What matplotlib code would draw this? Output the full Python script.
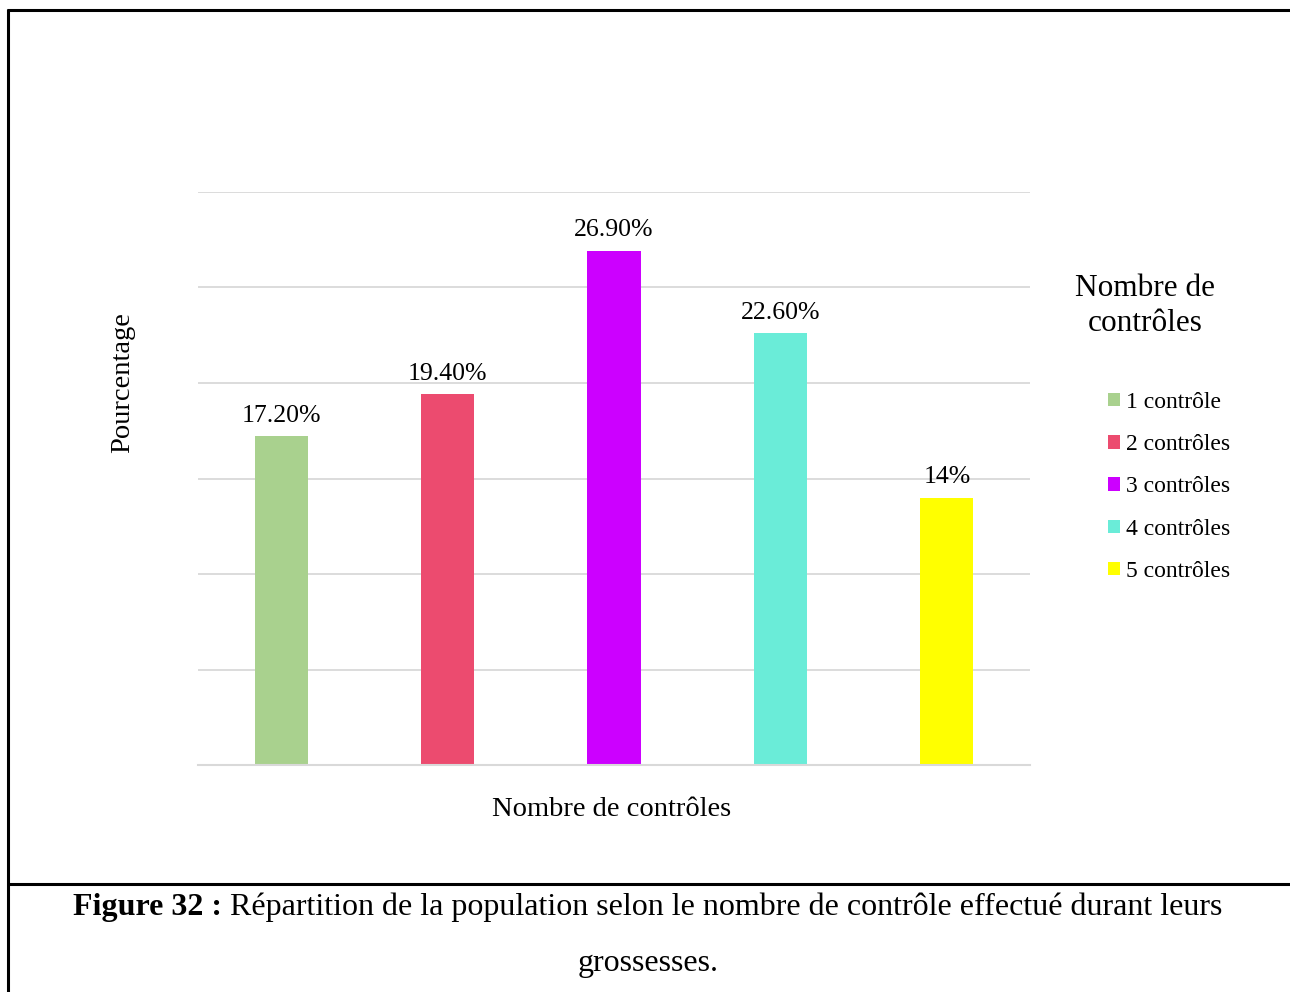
import matplotlib
matplotlib.use("Agg")
import matplotlib.pyplot as plt
from matplotlib.lines import Line2D
from matplotlib.patches import Patch

plt.rcParams['font.family'] = ['Liberation Serif', 'DejaVu Serif']

categories = ["1 contrôle", "2 contrôles", "3 contrôles", "4 contrôles", "5 contrôles"]
values = [17.2, 19.4, 26.9, 22.6, 14.0]
value_labels = ["17.20%", "19.40%", "26.90%", "22.60%", "14%"]
colors = ["#A9D18E", "#EC4B6F", "#CC00FF", "#6AECD8", "#FFFF00"]

W, H = 1290, 992
fig = plt.figure(figsize=(W / 100, H / 100), dpi=100)

def fx(px):
    return px / W

def fy(py):
    return 1 - py / H

ax = fig.add_axes([fx(198), fy(765), fx(1030) - fx(198), fy(192) - fy(765)])
x = list(range(len(categories)))
bars = ax.bar(x, values, width=0.32, color=colors, zorder=3)
ax.set_xlim(-0.5, 4.5)
ax.set_ylim(0, 30)
ax.set_yticks([0, 5, 10, 15, 20, 25, 30])
ax.yaxis.grid(True, color="#D9D9D9", linewidth=1.3, zorder=0)
ax.set_xticks([])
ax.tick_params(axis='y', length=0, labelleft=False)
for s in ["top", "right", "left"]:
    ax.spines[s].set_visible(False)
ax.spines["bottom"].set_color("#D9D9D9")
ax.spines["bottom"].set_linewidth(1.5)
ax.spines["bottom"].set_zorder(4)

for xi, v, lab in zip(x, values, value_labels):
    ax.annotate(lab, (xi, v), xytext=(0, 15), textcoords="offset points",
                ha="center", va="center", fontsize=18.5, color="#000000")

fig.text(fx(123), fy(383), "Pourcentage", rotation=90, ha="center", va="center", fontsize=20.5)
fig.text(fx(612), fy(810), "Nombre de contrôles", ha="center", va="center", fontsize=20.5)

# legend
fig.text(fx(1145), fy(306), "Nombre de\ncontrôles", ha="center", va="center", fontsize=22.5,
         linespacing=1.3)
handles = [Patch(facecolor=c, edgecolor="none") for c in colors]
leg = fig.legend(handles, categories, loc="upper left", bbox_to_anchor=(fx(1108), fy(392)),
                 frameon=False, fontsize=17, handlelength=0.5, handleheight=0.5,
                 handletextpad=0.28, labelspacing=0.9, borderpad=0, borderaxespad=0)

# borders
lw = 2.2
fig.add_artist(Line2D([fx(7), 1], [fy(10), fy(10)], color="black", lw=lw, solid_capstyle="butt"))
fig.add_artist(Line2D([fx(8), fx(8)], [fy(9), 0], color="black", lw=lw, solid_capstyle="butt"))
fig.add_artist(Line2D([fx(7), 1], [fy(884), fy(884)], color="black", lw=lw, solid_capstyle="butt"))

# caption
fig.canvas.draw()
r = fig.canvas.get_renderer()
bold = "Figure 32 :"
rest = " Répartition de la population selon le nombre de contrôle effectué durant leurs"
t1 = fig.text(0, fy(907), bold, fontsize=23, fontweight="bold", ha="left", va="center")
t2 = fig.text(0, fy(907), rest, fontsize=23, ha="left", va="center")
w1 = t1.get_window_extent(r).width
w2 = t2.get_window_extent(r).width
start = 648 - (w1 + w2) / 2
t1.set_x(fx(start))
t2.set_x(fx(start + w1))
fig.text(fx(648), fy(963), "grossesses.", fontsize=23, ha="center", va="center")

fig.savefig("out.png", dpi=100, facecolor="white")
